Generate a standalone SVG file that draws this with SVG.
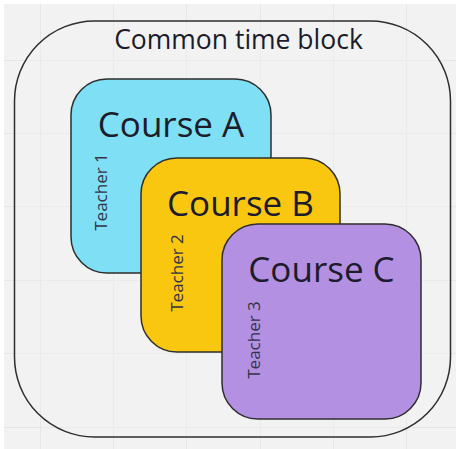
<svg xmlns="http://www.w3.org/2000/svg" width="456" height="449" viewBox="0 0 456 449">
<defs>
<style>
.grid{stroke:#e6e6e6;stroke-width:1}
.box{stroke:#2e2e2e;stroke-width:1.5}
.title{font-family:"Open Sans","Noto Sans",sans-serif;font-size:26.5px;fill:#1c1c2b;text-anchor:middle}
.course{font-family:"Open Sans","Noto Sans",sans-serif;font-size:35px;fill:#1c1c2b;text-anchor:middle}
.teacher{font-family:"Open Sans","Noto Sans",sans-serif;font-size:17px;fill:#33334a;text-anchor:middle}
</style>
</defs>
<rect x="0" y="0" width="456" height="449" fill="#ffffff"/>
<rect x="4" y="4" width="452" height="445" fill="#f2f2f2"/>
<g id="grid" class="grid">
<line x1="40.5" y1="4" x2="40.5" y2="449"/>
<line x1="113.5" y1="4" x2="113.5" y2="449"/>
<line x1="186.5" y1="4" x2="186.5" y2="449"/>
<line x1="260.5" y1="4" x2="260.5" y2="449"/>
<line x1="333.5" y1="4" x2="333.5" y2="449"/>
<line x1="406.5" y1="4" x2="406.5" y2="449"/>
<line x1="4" y1="60.5" x2="456" y2="60.5"/>
<line x1="4" y1="133.5" x2="456" y2="133.5"/>
<line x1="4" y1="206.5" x2="456" y2="206.5"/>
<line x1="4" y1="280.5" x2="456" y2="280.5"/>
<line x1="4" y1="353.5" x2="456" y2="353.5"/>
<line x1="4" y1="427.5" x2="456" y2="427.5"/>
</g>
<g id="common-time-block">
<rect class="box" x="14.5" y="21" width="436" height="416" rx="80" ry="80" fill="#f2f2f2" fill-opacity="0.4"/>
<text class="title" x="238.5" y="49">Common time block</text>
</g>
<g id="course-a">
<rect class="box" x="71" y="79" width="200" height="194" rx="36" ry="36" fill="#7fdff4"/>
<text class="course" x="171" y="137">Course A</text>
<text class="teacher" transform="translate(107,192) rotate(-90)">Teacher 1</text>
</g>
<g id="course-b">
<rect class="box" x="141" y="158" width="199" height="194" rx="36" ry="36" fill="#f9c610"/>
<text class="course" x="240.5" y="216">Course B</text>
<text class="teacher" transform="translate(183,273) rotate(-90)">Teacher 2</text>
</g>
<g id="course-c">
<rect class="box" x="222" y="224" width="199" height="195" rx="36" ry="36" fill="#b490e2"/>
<text class="course" x="321.5" y="282">Course C</text>
<text class="teacher" transform="translate(260,340) rotate(-90)">Teacher 3</text>
</g>
<g id="connectors"></g>
</svg>
